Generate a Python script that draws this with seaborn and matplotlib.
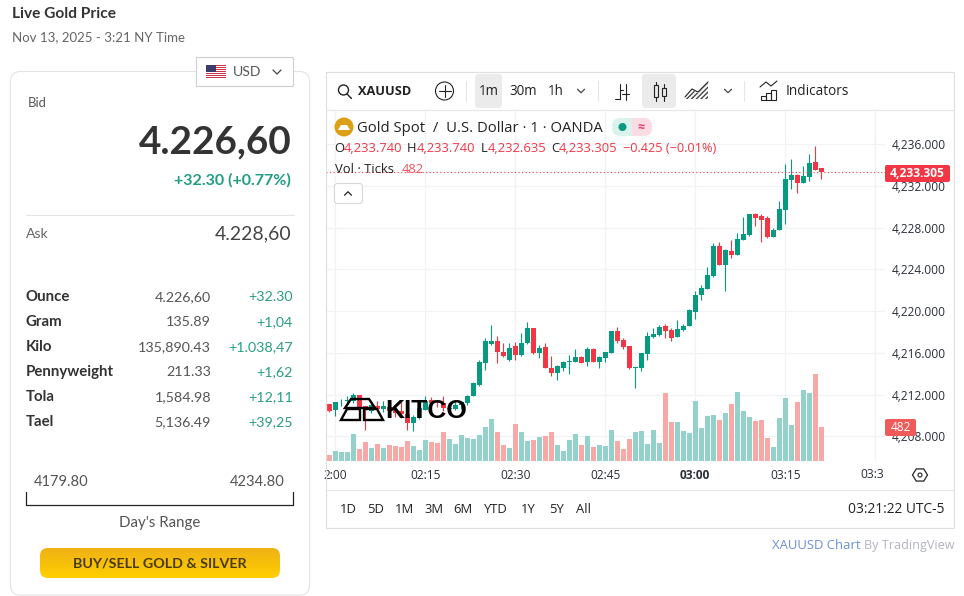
import numpy as np
import pandas as pd
import matplotlib
matplotlib.use('Agg')
import matplotlib.pyplot as plt
import seaborn as sns
from matplotlib.patches import Circle, FancyBboxPatch, Polygon, Rectangle

# one candle per minute, 01:59 to 03:21
open_prices = [
    4211.14, 4210.50, 4211.25, 4211.42, 4211.42, 4212.00, 4210.88, 4210.40, 4210.95, 4210.66,
    4210.80, 4210.50, 4210.47, 4210.18, 4209.28, 4209.76, 4210.56, 4211.52, 4211.36, 4211.20,
    4210.66, 4210.66, 4211.04, 4211.20, 4211.90, 4212.96, 4215.04, 4216.89, 4217.18, 4216.09,
    4215.29, 4216.70, 4215.80, 4216.92, 4218.35, 4216.02, 4216.53, 4214.52, 4214.10, 4214.55,
    4215.09, 4215.13, 4215.61, 4215.16, 4216.37, 4215.13, 4215.54, 4216.02, 4218.10, 4217.23,
    4216.66, 4214.52, 4214.55, 4215.92, 4217.55, 4217.71, 4218.58, 4218.19, 4217.55, 4218.19,
    4218.61, 4219.95, 4221.55, 4222.16, 4223.37, 4226.25, 4224.46, 4225.77, 4225.42, 4226.85,
    4227.30, 4229.32, 4229.12, 4228.90, 4227.14, 4227.81, 4229.73, 4232.61, 4233.05, 4232.29,
    4232.89, 4234.27, 4233.74,
]
high_prices = [
    4211.14, 4211.33, 4211.58, 4211.90, 4212.16, 4212.00, 4210.95, 4211.20, 4211.36, 4211.36,
    4211.20, 4211.00, 4211.36, 4210.40, 4210.08, 4210.85, 4211.90, 4211.78, 4211.50, 4211.90,
    4211.20, 4211.36, 4211.36, 4212.00, 4213.18, 4215.35, 4217.40, 4218.65, 4217.60, 4216.95,
    4216.95, 4217.02, 4217.87, 4218.93, 4218.35, 4216.76, 4216.92, 4215.70, 4214.84, 4215.22,
    4215.80, 4216.37, 4215.67, 4216.56, 4216.44, 4215.70, 4216.12, 4218.10, 4218.45, 4217.46,
    4216.66, 4214.61, 4215.99, 4217.97, 4218.35, 4218.64, 4218.77, 4218.35, 4219.15, 4218.74,
    4220.18, 4221.93, 4222.51, 4224.27, 4226.50, 4226.60, 4225.93, 4226.82, 4227.46, 4229.00,
    4229.32, 4229.38, 4229.32, 4229.09, 4227.94, 4230.56, 4234.11, 4234.59, 4233.12, 4233.92,
    4235.07, 4235.83, 4233.74,
]
low_prices = [
    4210.31, 4209.99, 4210.95, 4211.30, 4211.20, 4210.50, 4208.65, 4210.24, 4210.40, 4210.30,
    4210.20, 4209.90, 4209.76, 4208.58, 4208.49, 4209.70, 4210.50, 4210.40, 4210.80, 4210.40,
    4210.40, 4210.56, 4210.63, 4211.04, 4211.84, 4212.86, 4214.40, 4216.79, 4215.04, 4215.61,
    4215.26, 4215.35, 4215.70, 4216.85, 4215.89, 4215.48, 4214.55, 4213.78, 4213.40, 4214.29,
    4214.01, 4215.09, 4215.00, 4214.77, 4215.13, 4214.55, 4215.16, 4215.99, 4216.98, 4216.40,
    4214.42, 4212.63, 4214.29, 4215.32, 4217.43, 4217.62, 4217.43, 4217.17, 4217.52, 4218.13,
    4218.58, 4219.25, 4221.07, 4222.13, 4223.31, 4224.43, 4221.96, 4225.13, 4225.38, 4226.82,
    4227.21, 4228.20, 4226.66, 4227.05, 4227.11, 4227.78, 4228.39, 4231.71, 4231.36, 4232.29,
    4232.51, 4233.53, 4232.635,
]
close_prices = [
    4210.47, 4211.33, 4211.33, 4211.52, 4212.00, 4210.72, 4210.50, 4211.04, 4210.66, 4210.95,
    4210.45, 4210.20, 4210.18, 4209.28, 4209.86, 4210.72, 4211.36, 4211.20, 4211.20, 4210.72,
    4210.72, 4211.04, 4211.30, 4211.90, 4213.12, 4215.13, 4217.11, 4217.18, 4216.06, 4215.67,
    4216.47, 4215.83, 4216.98, 4218.35, 4216.02, 4216.44, 4214.58, 4214.10, 4214.74, 4215.13,
    4215.22, 4215.61, 4215.06, 4216.37, 4215.16, 4215.64, 4216.08, 4218.10, 4217.17, 4216.60,
    4214.55, 4214.61, 4215.99, 4217.62, 4217.81, 4218.48, 4218.10, 4217.43, 4218.29, 4218.58,
    4220.11, 4221.55, 4222.19, 4223.47, 4226.25, 4224.46, 4225.86, 4225.38, 4226.92, 4227.40,
    4229.32, 4228.93, 4228.77, 4227.11, 4227.78, 4229.79, 4232.67, 4233.05, 4232.29, 4232.96,
    4234.17, 4233.57, 4233.305,
]
tick_volume = [
    81, 138, 124, 124, 382, 167, 267, 181, 239, 181, 224, 210, 196, 281, 210, 153, 296, 267,
    253, 410, 310, 239, 367, 324, 310, 367, 482, 596, 410, 224, 181, 525, 410, 286, 300, 343,
    358, 415, 229, 143, 300, 386, 229, 358, 200, 229, 215, 444, 286, 172, 315, 415, 429, 243,
    444, 258, 973, 558, 558, 429, 401, 859, 467, 639, 653, 582, 682, 811, 983, 711, 625, 568,
    582, 324, 196, 611, 897, 510, 840, 1011, 968, 1240, 482,
]

price_ticks = [4236, 4232, 4228, 4224, 4220, 4216, 4212, 4208]
time_ticks = [0, 15, 30, 45, 60, 75, 90]
time_labels = ['2:00', '02:15', '02:30', '02:45', '03:00', '03:15', '']
last_price = 4233.305

quote_rows = ['Ounce', 'Gram', 'Kilo', 'Pennyweight', 'Tola', 'Tael']
quote_values = ['4.226,60', '135.89', '135,890.43', '211.33', '1,584.98', '5,136.49']
quote_changes = ['+32.30', '+1,04', '+1.038,47', '+1,62', '+12,11', '+39,25']
range_buttons = ['1D', '5D', '1M', '3M', '6M', 'YTD', '1Y', '5Y', 'All']

UP = '#089981'
DOWN = '#f23645'
SIDE_FONT = 'Lato'
TV_FONT = 'Open Sans'

sns.set_theme(style='white')
plt.rcParams['font.family'] = [TV_FONT, 'DejaVu Sans']

df = pd.DataFrame({'minute': np.arange(-1, 82), 'open': open_prices, 'high': high_prices,
                   'low': low_prices, 'close': close_prices, 'volume': tick_volume})
df['side'] = np.where(df['close'] >= df['open'], 'up', 'down')

W, H = 964, 596
fig = plt.figure(figsize=(W / 100, H / 100), dpi=100, facecolor='white')

# chart pane: 6 px per minute, 10.43 px per dollar
# xlim nudged so every bar snaps to the same 5 px width
pane = [326 / W, 1 - 461 / H, (885 - 326) / W, (461 - 111) / H]
time_range = (-1.533, 91.637)
ax = fig.add_axes(pane, zorder=1)
vol_ax = fig.add_axes(pane, zorder=2, facecolor='none')

sns.barplot(data=df, x='minute', y='volume', hue='side', palette={'up': '#94d1cb', 'down': '#f7a9a7'},
            native_scale=True, dodge=False, width=0.8, errorbar=None, legend=False, saturation=1,
            linewidth=0, edgecolor='none', ax=vol_ax)
vol_ax.set_xlim(*time_range)
vol_ax.set_ylim(0, 5005)
vol_ax.axis('off')

colors = [UP if s == 'up' else DOWN for s in df['side']]
ax.vlines(df['minute'], df['low'], df['high'], colors=colors, lw=0.8, zorder=3)
ax.bar(df['minute'], (df['close'] - df['open']).abs().clip(lower=0.06),
       bottom=df[['open', 'close']].min(axis=1), width=0.8, color=colors, linewidth=0,
       edgecolor='none', zorder=4)
ax.axhline(last_price, color=DOWN, lw=0.8, ls=(0, (1, 2.2)), zorder=5)
ax.set_xlim(*time_range)
ax.set_ylim(4205.64, 4239.19)
ax.set_xticks(time_ticks)
ax.set_xticklabels(time_labels)
ax.set_yticks(price_ticks)
ax.set_yticklabels(['{:,.3f}'.format(p) for p in price_ticks])
ax.yaxis.tick_right()
ax.tick_params(axis='y', length=0, pad=5, labelsize=8.6, labelcolor='#2a2e39')
ax.tick_params(axis='x', length=0, pad=5.5, labelsize=8.6, labelcolor='#2a2e39')
ax.get_xticklabels()[4].set_fontweight('bold')
ax.grid(True, color='#f0f2f5', lw=0.9)
ax.set_axisbelow(True)
sns.despine(ax=ax, left=True, bottom=True, right=True, top=True)

# page furniture in pixel coordinates
ui = fig.add_axes([0, 0, 1, 1], zorder=5, facecolor='none')
ui.set_xlim(0, W)
ui.set_ylim(H, 0)
ui.axis('off')


def txt(x, y, s, px, color='#333333', ha='left', weight='normal', font=SIDE_FONT):
    ui.text(x, y, s, fontsize=px * 0.72, color=color, ha=ha, va='center', fontweight=weight,
            fontfamily=[font, 'DejaVu Sans'])


def line(xs, ys, color='#333333', lw=0.8):
    ui.plot(xs, ys, color=color, lw=lw, solid_capstyle='round', solid_joinstyle='round')


def rbox(x0, y0, x1, y1, r, fc='white', ec='none', lw=0.8, z=1):
    p = FancyBboxPatch((x0 + r, y0 + r), x1 - x0 - 2 * r, y1 - y0 - 2 * r,
                       boxstyle='round,pad={},rounding_size={}'.format(r, r),
                       fc=fc, ec=ec, lw=lw, zorder=z)
    ui.add_patch(p)
    return p


def chevron(x, y, s=3.5, color='#444444', up=False):
    d = -s if up else s
    line([x - s, x, x + s], [y - d / 2, y + d / 2, y - d / 2], color=color, lw=0.9)


# left card
txt(12, 14.5, 'Live Gold Price', 15.5, weight='bold')
txt(12, 37.5, 'Nov 13, 2025 - 3:21 NY Time', 13.2, color='#666666')
rbox(10.5, 71.5, 309.5, 595, 10, fc='none', ec='#e4e4e4')
rbox(196.5, 57.5, 293.5, 86.5, 0.5, ec='#cfcfcf')
for i in range(7):
    ui.add_patch(Rectangle((206, 65 + i * 2), 20, 1, fc='#c8384a', ec='none', zorder=2))
ui.add_patch(Rectangle((206, 65), 10, 7, fc='#3c3b6e', ec='none', zorder=3))
txt(233, 72.5, 'USD', 14, color='#555555')
chevron(277, 72, 4)
txt(28, 103, 'Bid', 13, color='#555555')
txt(292, 142, '4.226,60', 38.8, ha='right', weight='bold')
txt(291, 180.5, '+32.30 (+0.77%)', 16, color='#1f9d84', ha='right', weight='bold')
line([26, 294], [214.5, 214.5], color='#e4e4e4')
txt(26, 233.5, 'Ask', 14, color='#666666')
txt(291, 233.5, '4.228,60', 19.4, color='#444444', ha='right')
for i, (name, value, change) in enumerate(zip(quote_rows, quote_values, quote_changes)):
    y = 297 + i * 25
    txt(26, y, name, 15, weight='bold')
    txt(211, y, value, 14.3, color='#555555', ha='right')
    txt(293, y, change, 14.3, color='#2a9d84', ha='right')
txt(34, 482.5, '4179.80', 14.7, color='#555555')
txt(285, 482.5, '4234.80', 14.7, color='#555555', ha='right')
line([26, 26, 293, 293], [492, 505, 505, 492], color='#222222', lw=0.9)
txt(160, 523.5, "Day's Range", 15, color='#555555', ha='center')
btn = rbox(40, 548, 280, 578, 8, fc='none')
grad = ui.imshow(np.linspace(0, 1, 30).reshape(-1, 1), extent=(40, 280, 578, 548), aspect='auto',
                 cmap=matplotlib.colors.LinearSegmentedColormap.from_list('btn', ['#efb215', '#ffce00']),
                 zorder=1)
grad.set_clip_path(btn)
ui.set_xlim(0, W)
ui.set_ylim(H, 0)
txt(160, 563.5, 'BUY/SELL GOLD & SILVER', 14.2, color='#4a3a10', ha='center', weight='bold')

# chart frame and toolbar
ui.add_patch(Rectangle((326, 72), 628, 456, fc='none', ec='#e0e0e0', lw=0.9))
line([326, 954], [110, 110], color='#e6e6e6')
line([326, 954], [489.5, 489.5], color='#e6e6e6')
ui.add_patch(Circle((343.5, 90), 5, fc='none', ec='#222222', lw=1))
line([347, 351.5], [94, 98.5], color='#222222', lw=1)
txt(358, 91.5, 'XAUUSD', 12.7, color='#222222', weight='bold', font=TV_FONT)
ui.add_patch(Circle((444.5, 91), 9, fc='none', ec='#222222', lw=0.8))
line([438.5, 450.5], [91, 91], color='#222222')
line([444.5, 444.5], [85, 97], color='#222222')
for x in [466, 598, 744]:
    line([x, x], [81, 101], color='#e6e6e6')
rbox(475, 74, 502, 108, 4, fc='#ebebeb')
rbox(642, 74, 676, 108, 4, fc='#ebebeb')
txt(488.5, 91.5, '1m', 13.5, color='#222222', ha='center', font=TV_FONT)
txt(523, 91.5, '30m', 13.5, color='#222222', ha='center', font=TV_FONT)
txt(556, 91.5, '1h', 13.5, color='#222222', ha='center', font=TV_FONT)
chevron(581, 91, 3.5)
chevron(728, 91, 3.5)
# bar, candle and area icons
line([619.5, 619.5, 615], [84, 99, 99], color='#222222')
line([619.5, 623], [90, 90], color='#222222')
line([625.5, 625.5], [84, 100], color='#222222')
line([622, 625.5, 629], [94, 94, 94], color='#222222')
ui.add_patch(Rectangle((653.5, 85), 4.5, 12, fc='none', ec='#222222', lw=0.8, zorder=3))
ui.add_patch(Rectangle((661.5, 88), 4.5, 8, fc='none', ec='#222222', lw=0.8, zorder=3))
line([655.7, 655.7], [82, 85], color='#222222')
line([655.7, 655.7], [97, 101], color='#222222')
line([663.7, 663.7], [84, 88], color='#222222')
line([663.7, 663.7], [96, 101], color='#222222')
ui.add_patch(Polygon([(685, 98), (692, 90), (698, 93), (708, 83), (708, 99), (685, 99)],
                     fc='none', ec='#444444', lw=0, hatch='///////', zorder=2))
line([685, 692, 698, 708], [97, 89, 92, 82], color='#222222')
line([760, 766, 771, 777], [87, 82, 86, 81], color='#222222')
for x0, y0 in [(761, 96), (766, 93), (771, 90)]:
    ui.add_patch(Rectangle((x0, y0), 5, 100 - y0, fc='none', ec='#222222', lw=0.8))
txt(786, 91.5, 'Indicators', 13.6, color='#222222', font=TV_FONT)

# legend
ui.add_patch(Circle((344, 127), 9.5, fc='#dc9f16', ec='none', zorder=3))
ui.add_patch(Polygon([(338, 130), (341, 125), (347, 125), (350, 130)], fc='white', ec='none', zorder=4))
txt(357, 128, 'Gold Spot  /  U.S. Dollar · 1 · OANDA', 14.9, color='#222222', font=TV_FONT)
rbox(612, 118, 652, 136, 8.5, fc='#d9f2ec', z=2)
rbox(632, 118, 652, 136, 8.5, fc='#fbdbe4', z=3)
ui.add_patch(Rectangle((632, 118), 9, 18, fc='#fbdbe4', ec='none', zorder=3))
ui.add_patch(Circle((622.5, 127), 4, fc=UP, ec='none', zorder=4))
ui.text(641, 127, '≈', fontsize=9, color='#e0436f', ha='center', va='center', zorder=5, fontweight='bold')
txt(334, 148.5, 'O', 13, color='#222222', font=TV_FONT)
txt(344, 148.5, '4,233.740', 13, color=DOWN, font=TV_FONT)
txt(407, 148.5, 'H', 13, color='#222222', font=TV_FONT)
txt(417, 148.5, '4,233.740', 13, color=DOWN, font=TV_FONT)
txt(480.5, 148.5, 'L', 13, color='#222222', font=TV_FONT)
txt(488, 148.5, '4,232.635', 13, color=DOWN, font=TV_FONT)
txt(551, 148.5, 'C', 13, color='#222222', font=TV_FONT)
txt(559, 148.5, '4,233.305', 13, color=DOWN, font=TV_FONT)
txt(623, 148.5, '−0.425 (−0.01%)', 12.7, color=DOWN, font=TV_FONT)
txt(335, 169.5, 'Vol · Ticks', 13, color='#222222', font=TV_FONT)
txt(402, 169.5, '482', 13, color='#f7525f', font=TV_FONT)
rbox(334.5, 183.5, 362.5, 203.5, 3, ec='#d8d8d8')
chevron(348, 193.5, 3.5, color='#222222', up=True)

# price tags, hiding parts of the axis labels
rbox(885, 165, 950, 182, 2, fc=DOWN, z=3)
txt(917.5, 173.5, '4,233.305', 12, color='white', ha='center', weight='bold', font=TV_FONT)
rbox(885, 419, 916, 436, 2, fc='#f05a5a', z=3)
ui.text(900.5, 427.5, '482', fontsize=8.6, color='white', ha='center', va='center', zorder=4)

# logo over the candles
ui.add_patch(Polygon([(351, 399), (369, 399), (375, 408), (345, 408)], fc='none', ec='black', lw=1.7, zorder=6))
ui.add_patch(Polygon([(347, 409), (360, 409), (360, 420), (341, 420)], fc='none', ec='black', lw=1.7, zorder=6))
ui.add_patch(Polygon([(364, 409), (377, 409), (383, 420), (364, 420)], fc='none', ec='black', lw=1.7, zorder=6))
ui.text(385, 411, 'KITCO', fontsize=19, fontweight='bold', color='black', ha='left', va='center',
        fontfamily='Liberation Sans', zorder=6)

# time axis end
txt(884, 475, '03:3', 12, color='#2a2e39', ha='right', font=TV_FONT)
hex_t = np.deg2rad(np.arange(0, 360, 60))
ui.add_patch(Polygon(np.c_[920 + 7.5 * np.cos(hex_t), 475 + 7 * np.sin(hex_t)], fc='none', ec='#222222', lw=0.9))
ui.add_patch(Circle((920, 475), 2, fc='none', ec='#222222', lw=0.8))

# bottom toolbar
for x, label in zip([348, 376, 405, 434, 463, 496, 528, 556, 584], range_buttons):
    txt(x, 509.5, label, 13, color='#222222', ha='center', font=TV_FONT)
txt(945, 509.5, '03:21:22 UTC-5', 13.8, color='#222222', ha='right', font=TV_FONT)
txt(772, 545.5, 'XAUUSD Chart', 13.1, color='#6d8fdc', font=TV_FONT)
txt(955, 545.5, 'By TradingView', 12.6, color='#b2b5be', ha='right', font=TV_FONT)

fig.savefig('out.png', dpi=100, facecolor='white')
